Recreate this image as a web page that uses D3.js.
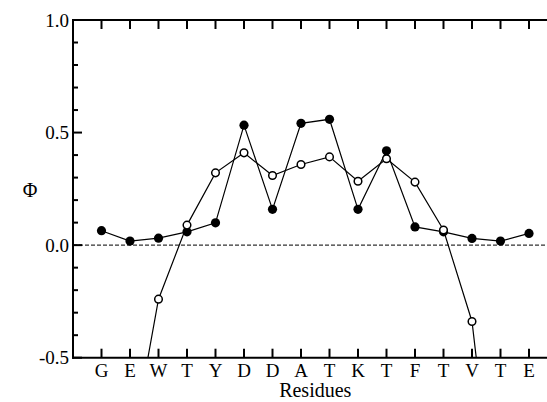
<!DOCTYPE html>
<html><head><meta charset="utf-8"><script src="https://cdn.jsdelivr.net/npm/d3@7/dist/d3.min.js"></script></head>
<body style="margin:0">
<script>
const residues = ["G","E","W","T","Y","D","D","A","T","K","T","F","T","V","T","E"];
const phiFilled = [0.064,0.018,0.031,0.059,0.099,0.533,0.159,0.541,0.559,0.159,0.419,0.081,0.059,0.030,0.018,0.052];
const phiOpen = [null,-0.94,-0.24,0.089,0.321,0.41,0.309,0.358,0.392,0.284,0.384,0.28,0.067,-0.339,-1.42,null];
const yMajorTicks = [-0.5,0.0,0.5,1.0];
const yMinorTicks = d3.range(-0.4,1.0,0.1).map(v=>+v.toFixed(1)).filter(v=>!yMajorTicks.includes(v));

const svg = d3.select("body").append("svg").attr("width",547).attr("height",402);

const x = d3.scaleLinear().domain([0,17]).range([73,557.5]);
const y = d3.scaleLinear().domain([-0.5,1.0]).range([357.7,20]);

// labels first
svg.selectAll("text.yl").data(yMajorTicks).enter().append("text").attr("class","yl")
  .attr("font-family","'Times'").attr("font-size",19)
  .attr("x",x(0)-4).attr("y",d=>y(d)+6.5).attr("text-anchor","end")
  .text(d=>d.toFixed(1));
svg.selectAll("text.xl").data(residues).enter().append("text").attr("class","xl")
  .attr("font-family","'Times'").attr("font-size",19)
  .attr("x",(d,k)=>x(k+1)).attr("y",377).attr("text-anchor","middle")
  .text(d=>d);
svg.append("text").attr("font-family","'Times'").attr("font-size",20)
  .attr("x",x(8.5)).attr("y",397).attr("text-anchor","middle").text("Residues");
svg.append("text").attr("font-family","'Times'").attr("font-size",20)
  .attr("x",30).attr("y",197).attr("text-anchor","middle").text("Φ");

svg.append("defs").append("clipPath").attr("id","clip")
  .append("rect").attr("x",x(0)).attr("y",y(1)).attr("width",x(17)-x(0)).attr("height",y(-0.5)-y(1));

svg.append("line").attr("x1",x(0)).attr("x2",x(17)).attr("y1",y(0)).attr("y2",y(0))
  .attr("stroke","#333").attr("stroke-width",1.4).attr("stroke-dasharray","4,2");

const plot = svg.append("g").attr("clip-path","url(#clip)");
const line = d3.line().defined(d=>d.v!==null).x(d=>x(d.i)).y(d=>y(d.v));
const filled = phiFilled.map((v,k)=>({i:k+1,v}));
const open = phiOpen.map((v,k)=>({i:k+1,v}));

plot.append("path").datum(filled).attr("d",line).attr("fill","none").attr("stroke","#000").attr("stroke-width",1.2);
plot.append("path").datum(open).attr("d",line).attr("fill","none").attr("stroke","#000").attr("stroke-width",1.2);

plot.selectAll("circle.f").data(filled).enter().append("circle").attr("class","f")
  .attr("cx",d=>x(d.i)).attr("cy",d=>y(d.v)).attr("r",4.6).attr("fill","#000");
plot.selectAll("circle.o").data(open.filter(d=>d.v!==null)).enter().append("circle").attr("class","o")
  .attr("cx",d=>x(d.i)).attr("cy",d=>y(d.v)).attr("r",3.8).attr("fill","#fff").attr("stroke","#000").attr("stroke-width",1.5);

const ax = svg.append("g").attr("stroke","#000").attr("stroke-width",2).attr("fill","none");
ax.append("line").attr("x1",x(0)).attr("x2",x(0)).attr("y1",y(1)-1).attr("y2",y(-0.5)+1);
ax.append("line").attr("x1",x(0)-1).attr("x2",x(17)).attr("y1",y(1)).attr("y2",y(1));
ax.append("line").attr("x1",x(0)-1).attr("x2",x(17)).attr("y1",y(-0.5)).attr("y2",y(-0.5));

const xt = d3.range(1,17);
ax.selectAll("line.xb").data(xt).enter().append("line")
  .attr("x1",d=>x(d)).attr("x2",d=>x(d)).attr("y1",y(-0.5)).attr("y2",y(-0.5)-9);
ax.selectAll("line.xt").data(xt).enter().append("line")
  .attr("x1",d=>x(d)).attr("x2",d=>x(d)).attr("y1",y(1)).attr("y2",y(1)+9);
ax.selectAll("line.ym").data(yMajorTicks).enter().append("line")
  .attr("x1",x(0)).attr("x2",x(0)+9).attr("y1",d=>y(d)).attr("y2",d=>y(d));
ax.selectAll("line.yn").data(yMinorTicks).enter().append("line")
  .attr("x1",x(0)).attr("x2",x(0)+5).attr("y1",d=>y(d)).attr("y2",d=>y(d));
</script>
</body>
</html>
